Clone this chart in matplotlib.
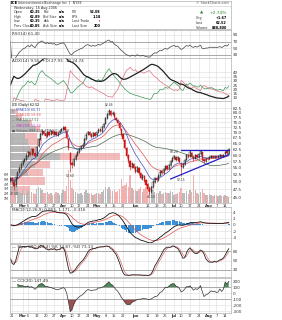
import numpy as np
import pandas as pd
import matplotlib
matplotlib.use("Agg")
import matplotlib.pyplot as plt

# ---------------- data ----------------
holidays = ["2006-02-20", "2006-04-14", "2006-05-29", "2006-07-04"]
dates = pd.bdate_range("2006-02-17", "2006-08-16")
dates = dates[~dates.isin(pd.to_datetime(holidays))]

close = [51.0, 50.2, 48.6, 51.8, 53.2, 55.0, 56.2, 57.6, 58.3, 59.6,
         61.2, 60.0, 62.6, 61.0, 59.8, 63.5, 66.8, 69.2, 70.8, 69.5,
         68.2, 70.1, 69.0, 70.6, 69.4, 70.2, 68.8, 69.9, 70.8, 71.6,
         72.4, 71.0, 67.4, 62.8, 56.5, 56.0, 58.4, 59.8, 61.2, 62.3,
         63.6, 64.4, 66.8, 69.0, 70.1, 69.0, 68.1, 69.6, 68.6, 70.0,
         71.4, 70.6, 72.6, 74.2, 77.0, 79.2, 81.0, 79.1, 80.2, 77.6,
         76.1, 74.8, 72.0, 69.0, 66.8, 63.0, 59.8, 57.8, 55.2, 56.6,
         55.0, 53.6, 55.2, 53.0, 51.4, 52.2, 50.4, 49.0, 47.6, 46.8,
         48.2, 50.0, 51.2, 50.6, 52.1, 53.6, 53.0, 54.6, 55.6, 54.6,
         56.1, 57.5, 58.6, 59.5, 58.0, 59.0, 57.1, 55.2, 56.3, 58.1,
         60.0, 59.4, 61.1, 59.2, 58.6, 60.0, 59.1, 60.4, 61.5, 58.1,
         57.6, 58.6, 58.5, 59.1, 59.6, 59.0, 59.6, 59.1, 59.6, 60.1,
         59.4, 60.2, 61.4, 60.85, 62.52]
open_ = [50.6, 51.2, 50.0, 48.9, 51.9, 53.4, 55.2, 56.4, 57.8, 58.2,
         59.8, 61.3, 60.3, 62.4, 61.0, 60.0, 63.8, 66.9, 69.4, 70.9,
         69.6, 68.3, 70.3, 69.1, 70.5, 69.5, 70.2, 68.9, 70.0, 70.9,
         71.7, 72.5, 70.8, 67.0, 61.0, 56.8, 56.2, 58.5, 59.9, 61.4,
         62.4, 63.8, 64.6, 66.9, 69.2, 70.2, 69.1, 68.2, 69.7, 68.8,
         70.1, 71.5, 70.8, 72.8, 74.4, 77.2, 79.5, 80.8, 79.2, 80.0,
         77.4, 76.0, 74.6, 71.8, 69.2, 66.6, 62.8, 60.0, 57.6, 55.4,
         56.4, 55.2, 53.8, 55.0, 53.2, 51.3, 52.0, 50.6, 49.2, 47.8,
         46.9, 48.3, 50.1, 51.3, 50.7, 52.2, 53.8, 53.1, 54.7, 55.7,
         54.8, 56.2, 57.6, 58.7, 59.4, 58.1, 58.9, 57.0, 55.4, 56.4,
         58.2, 60.1, 59.5, 61.0, 59.3, 58.7, 60.1, 59.2, 60.5, 61.3,
         58.2, 57.7, 58.7, 58.6, 59.2, 59.7, 59.1, 59.5, 59.2, 59.7,
         60.2, 59.5, 60.3, 61.5, 60.35]
high = [51.8, 51.5, 50.3, 52.2, 53.8, 55.4, 56.9, 58.2, 59.0, 60.3,
        61.8, 61.9, 63.2, 62.9, 61.4, 63.9, 67.3, 69.8, 71.6, 71.3,
        70.0, 70.6, 70.8, 71.2, 71.0, 70.8, 70.5, 70.4, 71.3, 72.2,
        73.4, 73.0, 71.0, 67.2, 61.5, 57.6, 58.9, 60.4, 61.8, 62.9,
        64.2, 65.0, 67.3, 69.6, 70.8, 70.6, 69.5, 70.1, 70.1, 70.5,
        72.0, 71.9, 73.1, 74.8, 77.6, 79.9, 82.46, 81.4, 80.9, 80.3,
        78.0, 76.6, 75.0, 72.3, 69.6, 67.0, 63.3, 60.6, 58.0, 57.3,
        56.9, 55.6, 55.8, 55.3, 53.6, 52.8, 52.4, 51.0, 49.5, 48.3,
        48.7, 50.5, 51.7, 51.6, 52.6, 54.1, 54.2, 55.0, 56.1, 56.0,
        56.6, 58.0, 59.1, 60.2, 59.8, 59.5, 59.2, 57.4, 56.8, 58.6,
        60.5, 60.6, 62.0, 61.3, 59.9, 60.5, 60.4, 60.9, 62.0, 61.5,
        58.6, 59.0, 59.1, 59.5, 60.0, 60.0, 60.0, 59.9, 60.0, 60.5,
        60.5, 60.6, 61.9, 61.8, 62.89]
low = [50.0, 49.6, 47.3, 48.6, 51.5, 53.0, 54.6, 56.0, 57.2, 57.9,
       59.4, 59.6, 60.0, 60.6, 59.2, 59.8, 63.5, 66.5, 69.0, 69.0,
       67.6, 68.0, 68.6, 68.8, 69.0, 69.0, 68.3, 68.5, 69.6, 70.5,
       71.2, 70.6, 66.9, 62.0, 53.6, 55.0, 55.8, 58.0, 59.5, 60.9,
       62.0, 63.2, 64.3, 66.5, 68.7, 68.5, 67.6, 67.9, 68.2, 68.4,
       69.8, 70.1, 70.4, 72.4, 74.0, 76.8, 79.0, 78.6, 78.7, 77.0,
       75.6, 74.2, 71.4, 68.4, 66.0, 62.4, 59.0, 57.0, 54.3, 54.9,
       54.5, 53.0, 53.4, 52.5, 50.9, 50.8, 49.9, 48.5, 47.0, 45.85,
       46.5, 48.0, 49.7, 50.1, 50.4, 51.9, 52.6, 52.8, 54.3, 54.2,
       54.5, 55.9, 57.2, 58.3, 57.6, 57.8, 56.7, 52.15, 55.0, 56.1,
       57.9, 59.0, 59.2, 58.8, 57.6, 58.4, 58.7, 58.9, 60.1, 57.7,
       57.0, 57.4, 58.0, 58.3, 58.8, 58.7, 58.8, 58.8, 58.9, 59.4,
       59.1, 59.3, 60.0, 60.5, 60.35]
volume = [2.4, 2.1, 3.3, 2.7, 2.2, 2.4, 2.1, 2.8, 2.0, 2.2,
          2.5, 2.1, 2.4, 2.2, 2.0, 3.0, 3.4, 3.1, 2.7, 2.2,
          2.1, 2.4, 2.0, 2.2, 1.8, 2.0, 2.4, 2.1, 1.8, 2.2,
          2.7, 2.5, 3.6, 7.0, 4.8, 3.1, 2.7, 2.4, 2.2, 2.0,
          2.1, 1.8, 2.4, 2.8, 2.2, 2.0, 2.1, 1.8, 2.0, 2.1,
          2.2, 2.0, 2.4, 2.7, 3.3, 3.0, 3.4, 2.8, 2.5, 2.7,
          2.4, 2.5, 3.0, 5.2, 3.6, 3.9, 4.2, 3.3, 6.0, 3.1,
          2.7, 2.8, 2.5, 3.0, 3.3, 2.4, 3.0, 3.4, 3.1, 3.7,
          3.0, 2.7, 2.4, 2.1, 2.2, 2.5, 2.0, 2.2, 2.4, 2.1,
          2.2, 2.5, 2.4, 1.8, 2.0, 2.1, 2.4, 3.1, 2.2, 2.1,
          2.5, 2.0, 2.7, 2.4, 6.0, 2.8, 2.2, 2.0, 2.4, 3.0,
          2.1, 1.8, 1.6, 2.0, 1.8, 1.5, 1.6, 1.8, 1.5, 1.6,
          1.5, 1.4, 1.8, 1.5, 1.3]
vol_ticks = [1, 2, 3, 4, 5, 6]

# volume-by-price (12 zones, millions): up (gray) / down (pink)
vbp_up = [4, 4, 9, 12.5, 25, 10, 9, 7.5, 13, 10, 4, 2.5]
vbp_down = [6, 13.5, 7.5, 7.5, 30, 4, 7, 6, 2, 1, 2, 1.5]

tick_dates = ["2006-02-21", "2006-03-01", "2006-03-06", "2006-03-13", "2006-03-20",
              "2006-03-27", "2006-04-03", "2006-04-10", "2006-04-17", "2006-04-24",
              "2006-05-01", "2006-05-08", "2006-05-15", "2006-05-22", "2006-06-01",
              "2006-06-12", "2006-06-19", "2006-06-26", "2006-07-03", "2006-07-10",
              "2006-07-17", "2006-07-24", "2006-08-01", "2006-08-07", "2006-08-14"]
tick_labels = ["21", "Mar", "6", "13", "20", "27", "Apr", "10", "17", "24", "May", "8",
               "15", "22", "Jun", "12", "19", "26", "Jul", "10", "17", "24", "Aug", "7", "14"]

trend_upper = (["2006-07-10", "2006-08-16"], [62.2, 62.2])
trend_lower = (["2006-06-29", "2006-08-16"], [51.0, 60.1])

swing_low_dates = ["2006-02-22", "2006-04-07", "2006-06-14", "2006-07-10"]
swing_high_dates = ["2006-05-10", "2006-07-03"]

# ---------------- indicators ----------------
df = pd.DataFrame({"o": open_, "h": high, "l": low, "c": close, "v": volume}, index=dates)
c, h, l = df.c, df.h, df.l
n = len(df)
x = np.arange(n)

ema10 = c.ewm(span=10, adjust=False).mean()
ema20 = c.ewm(span=20, adjust=False).mean()
ma50 = c.rolling(50, min_periods=1).mean()

delta = c.diff()
gain = delta.clip(lower=0).ewm(alpha=1/14, adjust=False).mean()
loss = (-delta.clip(upper=0)).ewm(alpha=1/14, adjust=False).mean()
rsi = 100 - 100 / (1 + gain / loss.replace(0, np.nan))
rsi = rsi.fillna(70)

up_move = h.diff()
dn_move = -l.diff()
pdm = np.where((up_move > dn_move) & (up_move > 0), up_move, 0.0)
mdm = np.where((dn_move > up_move) & (dn_move > 0), dn_move, 0.0)
tr = pd.concat([h - l, (h - c.shift()).abs(), (l - c.shift()).abs()], axis=1).max(axis=1)
atr = tr.ewm(alpha=1/14, adjust=False).mean()
pdi = 100 * pd.Series(pdm, index=df.index).ewm(alpha=1/14, adjust=False).mean() / atr
mdi = 100 * pd.Series(mdm, index=df.index).ewm(alpha=1/14, adjust=False).mean() / atr
dx = 100 * (pdi - mdi).abs() / (pdi + mdi)
adx = dx.fillna(25).ewm(alpha=1/14, adjust=False).mean()

macd = c.ewm(span=12, adjust=False).mean() - c.ewm(span=26, adjust=False).mean()
signal = macd.ewm(span=9, adjust=False).mean()
hist = macd - signal

ll = l.rolling(14, min_periods=1).min()
hh = h.rolling(14, min_periods=1).max()
fastk = 100 * (c - ll) / (hh - ll)
slowk = fastk.rolling(3, min_periods=1).mean()
slowd = slowk.rolling(3, min_periods=1).mean()

tp = (h + l + c) / 3
sma_tp = tp.rolling(20, min_periods=5).mean()
md = tp.rolling(20, min_periods=5).apply(lambda s: np.mean(np.abs(s - s.mean())), raw=True)
cci = (tp - sma_tp) / (0.015 * md)

def idx(dlist):
    return [dates.get_loc(pd.Timestamp(d)) for d in dlist]

# ---------------- layout ----------------
W, H = 282, 320
fig = plt.figure(figsize=(W / 100, H / 100), dpi=100)
fig.patch.set_facecolor("white")
L, R = 9.5, 231
GRID = "#dcdcdc"
FS = 3.0
TXT = "#333333"

def add_ax(y0, y1, x0=L, x1=R, **kw):
    return fig.add_axes([x0 / W, 1 - y1 / H, (x1 - x0) / W, (y1 - y0) / H], **kw)

xt = idx(tick_dates)

def style(ax, yticks, ylabels, ylim, log=False):
    if log:
        ax.set_yscale("log")
    ax.set_xlim(-0.5, n + 0.3)
    ax.set_ylim(*ylim)
    ax.set_xticks(xt)
    ax.set_xticklabels([])
    ax.set_yticks(yticks)
    ax.set_yticklabels(ylabels)
    ax.minorticks_off()
    ax.yaxis.tick_right()
    ax.tick_params(axis="y", length=0, pad=1.5, labelsize=FS, labelcolor=TXT)
    ax.tick_params(axis="x", length=0, pad=1, labelsize=FS, labelcolor=TXT)
    for s in ax.spines.values():
        s.set_color("#b0b0b0")
        s.set_linewidth(0.5)
    ax.grid(True, color=GRID, linewidth=0.4)
    ax.set_axisbelow(True)

# header
HF = 2.4
hx = add_ax(0.5, 29, x0=L, x1=R)
hx.set_xlim(0, R - L)
hx.set_ylim(29, 0.5)
hx.set_xticks([]); hx.set_yticks([])
for s in hx.spines.values():
    s.set_color("#b0b0b0"); s.set_linewidth(0.5)
hx.axhline(5.6, color="#c8c8c8", lw=0.4)
hx.text(1.5, 3.2, "ICE", fontsize=3.0, fontweight="bold", va="center", color="#000")
hx.text(8.5, 3.2, "IntercontinentalExchange Inc  |  NYSE", fontsize=HF, va="center", color=TXT)
hx.text(R - L - 2, 3.2, "© StockCharts.com", fontsize=HF, va="center", ha="right", color="#555")
hx.text(5, 8.0, "Wednesday, 16 Aug 2006", fontsize=HF, va="center", color=TXT)
rows_l = [("Open", "60.35", "Bid", "n/a", "P/E", "52.08"),
          ("High", "62.89", "Bid Size", "n/a", "EPS", "1.18"),
          ("Low", "60.35", "Ask", "n/a", "Last Trade", "↑"),
          ("Prev Close", "60.85", "Ask Size", "n/a", "Last Size", "200")]
for k, row in enumerate(rows_l):
    yy = 12.3 + k * 4.45
    hx.text(4, yy, row[0], fontsize=HF, va="center", color=TXT)
    hx.text(31, yy, row[1], fontsize=HF, va="center", ha="right", fontweight="bold", color="#000")
    hx.text(34, yy, row[2], fontsize=HF, va="center", color=TXT)
    hx.text(55, yy, row[3], fontsize=HF, va="center", ha="right", fontweight="bold", color="#000")
    hx.text(62, yy, row[4], fontsize=HF, va="center", color=TXT)
    hx.text(91, yy, row[5], fontsize=HF, va="center", ha="right", fontweight="bold",
            color="#cc0000" if row[5] == "↑" else "#000")
hx.text(190, 12.8, "▲", fontsize=3.0, va="center", color="#2a8a2a")
hx.text(R - L - 4, 12.8, "+2.74%", fontsize=3.2, va="center", ha="right", color="#2a8a2a")
for k, (a, b) in enumerate([("Chg", "+1.67"), ("Last", "62.52"), ("Volume", "888,800")]):
    yy = 17.8 + k * 4.9
    hx.text(186, yy, a, fontsize=HF, va="center", color=TXT)
    hx.text(R - L - 4, yy, b, fontsize=HF, va="center", ha="right", fontweight="bold", color="#000")

# RSI
ax_rsi = add_ax(30, 58)
style(ax_rsi, [90, 70, 50, 30], ["90", "70", "50", "30"], (21, 105))
ax_rsi.axhline(70, color="#909090", lw=0.5)
ax_rsi.axhline(30, color="#909090", lw=0.5)
ax_rsi.plot(x, rsi.values, color="#404040", lw=0.5)
ax_rsi.text(0.01, 0.93, "RSI(14) 61.40", transform=ax_rsi.transAxes, fontsize=FS, va="top", color=TXT)

# ADX
ax_adx = add_ax(58, 101)
style(ax_adx, [40, 35, 30, 25, 20, 15, 10], ["40", "35", "30", "25", "20", "15", "10"], (6.1, 56.9))
ax_adx.plot(x, pdi.values, color="#3c9a5a", lw=0.5)
ax_adx.plot(x, mdi.values, color="#e07080", lw=0.5)
ax_adx.plot(x, adx.values, color="#222222", lw=0.9)
ax_adx.text(0.01, 0.97, "ADX(14) 9.55  +DI 27.93  -DI 24.74", transform=ax_adx.transAxes,
            fontsize=FS, va="top", color=TXT)

# Price panel
PT, PB = 101, 203
base = add_ax(PT, PB)
ptick = [82.5, 80.0, 77.5, 75.0, 72.5, 70.0, 67.5, 65.0, 62.5, 60.0, 57.5, 55.0, 52.5, 50.0, 47.5, 45.0]
plim = (43.3, 86.8)
style(base, ptick, ["%.1f" % t for t in ptick], plim, log=True)

ax_vbp = add_ax(PT, PB)
ax_vbp.set_yscale("log"); ax_vbp.set_ylim(*plim); ax_vbp.set_xlim(0, 110)
ax_vbp.axis("off"); ax_vbp.patch.set_alpha(0)
edges = np.linspace(min(low), max(high), 13)
ax_vbp.barh(edges[:-1], vbp_up, height=np.diff(edges) * 0.92, align="edge",
            color="#9a9a9a", alpha=0.7, lw=0)
ax_vbp.barh(edges[:-1], vbp_down, left=vbp_up, height=np.diff(edges) * 0.92, align="edge",
            color="#eda0a0", alpha=0.7, lw=0)

ax_vol = add_ax(PT, PB)
ax_vol.set_xlim(-0.5, n + 0.3); ax_vol.set_ylim(0, 21.7)
ax_vol.patch.set_alpha(0)
for s in ax_vol.spines.values():
    s.set_visible(False)
ax_vol.set_xticks([])
ax_vol.set_yticks(vol_ticks)
ax_vol.set_yticklabels(["%dM" % v for v in vol_ticks])
ax_vol.tick_params(axis="y", length=0, pad=0.8, labelsize=2.3, labelcolor=TXT)
prev = c.shift().fillna(c.iloc[0])
down = (c < prev).values
ax_vol.bar(x, volume, width=0.8, color=np.where(down, "#f2a8a8", "#b4b4b4"), lw=0, alpha=0.9)

ax_p = add_ax(PT, PB)
ax_p.set_yscale("log"); ax_p.set_ylim(*plim); ax_p.set_xlim(-0.5, n + 0.3)
ax_p.axis("off"); ax_p.patch.set_alpha(0)
ax_p.plot(x, ma50.values, color="#4a6a4a", lw=0.5)
ax_p.plot(x, ema20.values, color="#e05050", lw=0.5)
ax_p.plot(x, ema10.values, color="#4050c0", lw=0.5)
col = np.where(down, "#d01818", "#111111")
ax_p.vlines(x, low, high, colors=col, lw=0.45)
o = np.array(open_); cc = np.array(close)
filled = cc < o
ax_p.bar(x, np.abs(cc - o) + 0.05, bottom=np.minimum(o, cc), width=0.75,
         color=np.where(filled, col, "white"), edgecolor=col, lw=0.3)
ui = idx(trend_upper[0]); li = idx(trend_lower[0])
ax_p.plot(ui, trend_upper[1], color="#2020c8", lw=0.9)
ax_p.plot(li, trend_lower[1], color="#2020c8", lw=0.9)
for i in idx(swing_low_dates):
    ax_p.text(i, low[i] * 0.985, "%.2f" % low[i], fontsize=2.2, ha="center", va="top", color=TXT)
for i in idx(swing_high_dates):
    ax_p.text(i, high[i] * 1.008, "%.2f" % high[i], fontsize=2.2, ha="center", va="bottom", color=TXT)
leg = [("ICE (Daily) 62.52", "#000000"), ("— EMA(10) 60.71", "#4050c0"),
       ("— EMA(20) 59.99", "#e05050"), ("— MA(50) 57.52", "#4a6a4a"),
       ("— MA(200) 56.24", "#c040c0"), ("■ Volume 888,800  EMA(60) 1,309", "#555555")]
for k, (t, cl) in enumerate(leg):
    ax_p.text(0.012, 0.985 - k * 0.052, t, transform=ax_p.transAxes, fontsize=2.3, va="top", color=cl)

# date labels under price panel
for i, lab in zip(xt, tick_labels):
    base.text(i, -0.01, lab, transform=base.get_xaxis_transform(), fontsize=2.6,
              ha="center", va="top", color=TXT, fontweight="bold" if not lab.isdigit() else "normal")

# MACD
ax_m = add_ax(207, 243)
style(ax_m, [4, 2, 0, -2, -4], ["4", "2", "0", "-2", "-4"], (-5.7, 5.7))
ax_m.bar(x, hist.values, width=0.9, color="#3d8fd6", lw=0)
ax_m.plot(x, signal.values, color="#e05050", lw=0.5)
ax_m.plot(x, macd.values, color="#111111", lw=0.6)
ax_m.text(0.01, 0.97, "MACD(12,26,9) 0.855, 1.171, -0.316", transform=ax_m.transAxes,
          fontsize=FS, va="top", color=TXT)

# Slow STO
ax_s = add_ax(244, 277)
style(ax_s, [80, 50, 20], ["80", "50", "20"], (-2.2, 102.2))
ax_s.axhline(80, color="#909090", lw=0.5)
ax_s.axhline(20, color="#909090", lw=0.5)
ax_s.plot(x, slowd.values, color="#e07070", lw=0.5)
ax_s.plot(x, slowk.values, color="#222222", lw=0.6)
ax_s.text(0.01, 0.97, "— Slow STO (14,3) %K 74.87, %D 73.13", transform=ax_s.transAxes,
          fontsize=FS, va="top", color=TXT)

# CCI
ax_c = add_ax(278, 313)
style(ax_c, [200, 100, 0, -100, -200, -300], ["200", "100", "0", "-100", "-200", "-300"], (-328, 255))
ax_c.axhline(100, color="#909090", lw=0.5)
ax_c.axhline(-100, color="#909090", lw=0.5)
cv = cci.values
ax_c.fill_between(x, cv, 100, where=cv > 100, color="#4d8a58", lw=0, interpolate=True)
ax_c.fill_between(x, cv, -100, where=cv < -100, color="#9c5050", lw=0, interpolate=True)
ax_c.plot(x, cv, color="#333333", lw=0.5)
ax_c.text(0.01, 0.97, "— CCI(20) 147.49", transform=ax_c.transAxes, fontsize=FS, va="top", color=TXT)
for i, lab in zip(xt, tick_labels):
    ax_c.text(i, -0.03, lab, transform=ax_c.get_xaxis_transform(), fontsize=2.6,
              ha="center", va="top", color=TXT, fontweight="bold" if not lab.isdigit() else "normal")

fig.savefig("out.png", dpi=100, facecolor="white")
